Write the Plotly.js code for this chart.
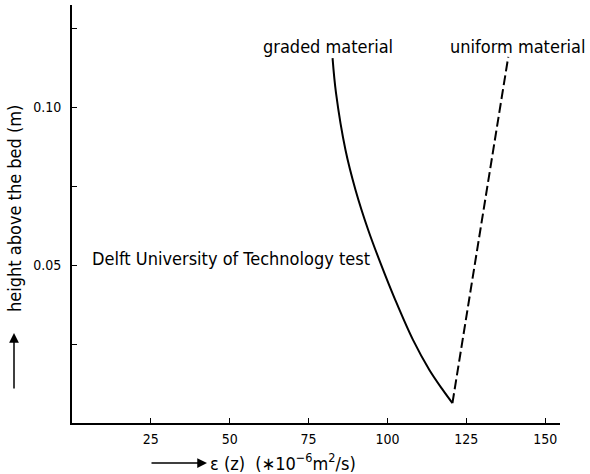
<!DOCTYPE html>
<html>
<head>
<meta charset="utf-8">
<script src="https://cdn.plot.ly/plotly-3.0.1.min.js"></script>
<style>
  html, body { margin: 0; padding: 0; background: #fff; }
  #chart { width: 590px; height: 474px; }
</style>
</head>
<body>
<div id="chart"></div>
<script>
// Eddy viscosity profile eps(z) versus height above the bed
const gradedEps = [82.6, 83.7, 86.7, 89.9, 93.9, 97.8, 102.5, 108.1, 113.3, 117.6, 120.6];
const gradedZ   = [0.1155, 0.1044, 0.0864, 0.0737, 0.0611, 0.0506, 0.0389, 0.0263, 0.0168, 0.0104, 0.0063];
const uniformEps = [120.6, 138.3];
const uniformZ   = [0.0063, 0.1159];

const xTickVals = [25, 50, 75, 100, 125, 150];
const xTickText = ['25', '50', '75', '100', '125', '150'];
const yTickVals = [0.05, 0.10];
const yTickText = ['0.05', '0.10'];
const yMinorVals = [0.025, 0.075, 0.125];

const FONT = 'DejaVu Sans Condensed, Liberation Sans Narrow, DejaVu Sans, sans-serif';
const LABEL_SIZE = 18;

const traces = [
  {
    x: gradedEps, y: gradedZ, type: 'scatter', mode: 'lines',
    line: { color: '#000', width: 2, shape: 'spline', smoothing: 1 },
    hoverinfo: 'skip'
  },
  {
    x: uniformEps, y: uniformZ, type: 'scatter', mode: 'lines',
    line: { color: '#000', width: 2, dash: '10px,4px' },
    hoverinfo: 'skip'
  }
];

const layout = {
  width: 590, height: 474,
  margin: { l: 72, r: 30, t: 5, b: 51 },
  paper_bgcolor: '#fff', plot_bgcolor: '#fff',
  showlegend: false,
  font: { family: FONT, size: 14, color: '#000' },
  xaxis: {
    range: [0, 154.7],
    showgrid: false, zeroline: false,
    showline: true, linecolor: '#000', linewidth: 2,
    ticks: 'inside', ticklen: 5, tickwidth: 1, tickcolor: '#000',
    tickmode: 'array', tickvals: xTickVals, ticktext: xTickText,
    tickfont: { family: FONT, size: 14 },
    ticklabelstandoff: 2
  },
  yaxis: {
    range: [0, 0.1323],
    showgrid: false, zeroline: false,
    showline: true, linecolor: '#000', linewidth: 2,
    ticks: 'inside', ticklen: 5, tickwidth: 1, tickcolor: '#000',
    tickmode: 'array', tickvals: yTickVals, ticktext: yTickText,
    tickfont: { family: FONT, size: 14 },
    ticklabelstandoff: 6,
    minor: {
      tickmode: 'array', tickvals: yMinorVals,
      ticks: 'inside', ticklen: 5, tickwidth: 1, tickcolor: '#000', showgrid: false
    }
  },
  annotations: [
    { text: 'graded material', xref: 'paper', yref: 'paper',
      x: (328 - 72) / 488, y: (423 - 47) / 418, showarrow: false,
      xanchor: 'center', yanchor: 'middle', font: { size: LABEL_SIZE } },
    { text: 'uniform material', xref: 'paper', yref: 'paper',
      x: (517 - 72) / 488, y: (423 - 47) / 418, showarrow: false,
      xanchor: 'center', yanchor: 'middle', font: { size: LABEL_SIZE } },
    { text: 'Delft University of Technology test', xref: 'paper', yref: 'paper',
      x: (231 - 72) / 488, y: (423 - 258) / 418, showarrow: false,
      xanchor: 'center', yanchor: 'middle', font: { size: LABEL_SIZE } },
    // axis titles
    { text: 'height above the bed (m)', xref: 'paper', yref: 'paper',
      x: (14 - 72) / 488, y: (423 - 209) / 418, showarrow: false, textangle: -90,
      xanchor: 'center', yanchor: 'middle', font: { size: LABEL_SIZE } },
    { text: 'ε (z)  (∗10<sup>−6</sup>m<sup>2</sup>/s)', xref: 'paper', yref: 'paper',
      x: (283 - 72) / 488, y: (423 - 462) / 418, showarrow: false,
      xanchor: 'center', yanchor: 'middle', font: { size: LABEL_SIZE } },
    // direction arrows next to the axis titles
    { text: '', xref: 'paper', yref: 'paper',
      x: (14 - 72) / 488, y: (423 - 333) / 418,
      showarrow: true, arrowhead: 2, arrowsize: 1.3, arrowwidth: 1.5, arrowcolor: '#000',
      ax: 0, ay: 57 },
    { text: '', xref: 'paper', yref: 'paper',
      x: (207 - 72) / 488, y: (423 - 463) / 418,
      showarrow: true, arrowhead: 2, arrowsize: 1.3, arrowwidth: 1.5, arrowcolor: '#000',
      ax: -57, ay: 0 }
  ]
};

Plotly.newPlot('chart', traces, layout, { staticPlot: true, displayModeBar: false });
</script>
</body>
</html>
